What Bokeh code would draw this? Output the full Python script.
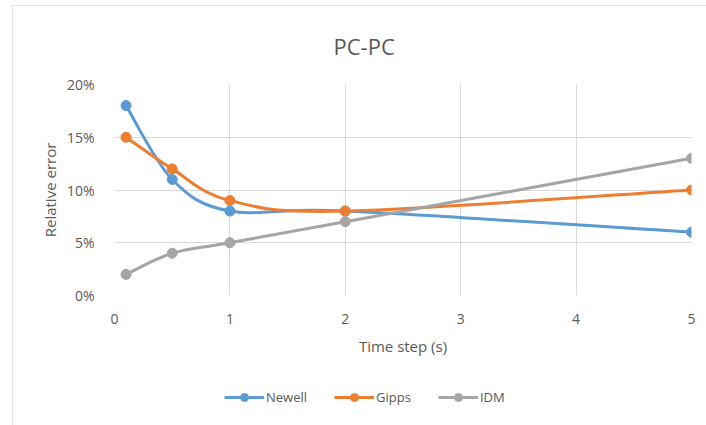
from bokeh.plotting import figure
from bokeh.layouts import column
from bokeh.models import Legend, LegendItem, PrintfTickFormatter, FixedTicker, Range1d
from bokeh.embed import file_html
from bokeh.resources import INLINE

# Relative error (%) per time step for each car-following model
time_step = [0.1, 0.5, 1, 2, 5]
newell = [18, 11, 8, 8, 6]
gipps = [15, 12, 9, 8, 10]
idm = [2, 4, 5, 7, 13]

series = [
    ("Newell", newell, "#5B9BD5"),
    ("Gipps", gipps, "#ED7D31"),
    ("IDM", idm, "#A5A5A5"),
]

FONT = "Open Sans"
TEXT = "#595959"
GRID = "#d9d9d9"

p = figure(
    width=693, height=360,
    output_backend="svg", toolbar_location=None,
    x_range=Range1d(0, 5), y_range=Range1d(0, 20),
    min_border_left=101, min_border_right=15,
    min_border_top=73, min_border_bottom=71,
)
p.outline_line_color = None
p.background_fill_color = "white"
p.border_fill_color = "white"

# Title box fills the top margin; the text is centred in it
p.title.text = "PC-PC"
p.title.text_font = FONT
p.title.text_font_size = "22px"
p.title.text_font_style = "normal"
p.title.text_color = TEXT
p.title.align = "left"
p.title.offset = 219
p.title.vertical_align = "middle"
p.title.standoff = 46

p.xaxis.ticker = FixedTicker(ticks=[0, 1, 2, 3, 4, 5])
p.yaxis.ticker = FixedTicker(ticks=[0, 5, 10, 15, 20])
p.yaxis.formatter = PrintfTickFormatter(format="%d%%")
for ax in (p.xaxis[0], p.yaxis[0]):
    ax.axis_line_color = None
    ax.major_tick_line_color = None
    ax.minor_tick_line_color = None
    ax.major_label_text_font = FONT
    ax.major_label_text_font_size = "14px"
    ax.major_label_text_color = TEXT
    ax.axis_label_text_font = FONT
    ax.axis_label_text_font_size = "15px"
    ax.axis_label_text_font_style = "normal"
    ax.axis_label_text_color = TEXT
p.xaxis.axis_label = "Time step (s)"
p.yaxis.axis_label = "Relative error"
p.xaxis.major_label_standoff = 12
p.xaxis.axis_label_standoff = 9
p.yaxis.major_label_standoff = 14
p.yaxis.axis_label_standoff = 4

p.xgrid.grid_line_color = GRID
p.ygrid.grid_line_color = GRID


def smooth_segments(xs, ys, k=1.0 / 6.0):
    """Cubic Bezier pieces of a Catmull-Rom style smoothed line through the points."""
    n = len(xs)
    x0, y0, x1, y1, cx0, cy0, cx1, cy1 = ([] for _ in range(8))
    for i in range(n - 1):
        ip = max(i - 1, 0)
        inn = min(i + 2, n - 1)
        x0.append(xs[i]); y0.append(ys[i])
        x1.append(xs[i + 1]); y1.append(ys[i + 1])
        cx0.append(xs[i] + (xs[i + 1] - xs[ip]) * k)
        cy0.append(ys[i] + (ys[i + 1] - ys[ip]) * k)
        cx1.append(xs[i + 1] - (xs[inn] - xs[i]) * k)
        cy1.append(ys[i + 1] - (ys[inn] - ys[i]) * k)
    return dict(x0=x0, y0=y0, x1=x1, y1=y1, cx0=cx0, cy0=cy0, cx1=cx1, cy1=cy1)


for name, vals, color in series:
    seg = smooth_segments(time_step, vals)
    p.bezier(x0="x0", y0="y0", x1="x1", y1="y1", cx0="cx0", cy0="cy0",
             cx1="cx1", cy1="cy1", source=seg, line_color=color, line_width=3)
    p.scatter(time_step, vals, size=10, fill_color=color, line_color=color)

# Legend strip below the chart: its keys sit outside the strip's visible range
lg = figure(
    width=693, height=59, output_backend="svg", toolbar_location=None,
    x_range=Range1d(0, 1), y_range=Range1d(0, 1),
    x_axis_type=None, y_axis_type=None,
    min_border=0,
)
lg.outline_line_color = None
lg.grid.visible = False
lg.border_fill_color = "white"

items = []
for name, vals, color in series:
    ln = lg.line([5, 6], [5, 6], line_color=color, line_width=3)
    pt = lg.scatter([5], [5], size=10, fill_color=color, line_color=color)
    items.append(LegendItem(label=name, renderers=[ln, pt]))

legend = Legend(items=items, orientation="horizontal", location=(110, 18))
legend.label_text_font = FONT
legend.label_text_font_size = "13px"
legend.label_text_color = TEXT
legend.glyph_width = 40
legend.spacing = 27
legend.label_standoff = 2
legend.border_line_color = None
legend.background_fill_alpha = 0
legend.margin = 0
lg.add_layout(legend, "center")

page = column(p, lg, spacing=0)
page.margin = (5, 0, 0, 12)
page.styles = {"border-top": "1px solid #e3e3e3", "border-left": "1px solid #e3e3e3"}

open("out.html", "w").write(file_html(page, INLINE))
